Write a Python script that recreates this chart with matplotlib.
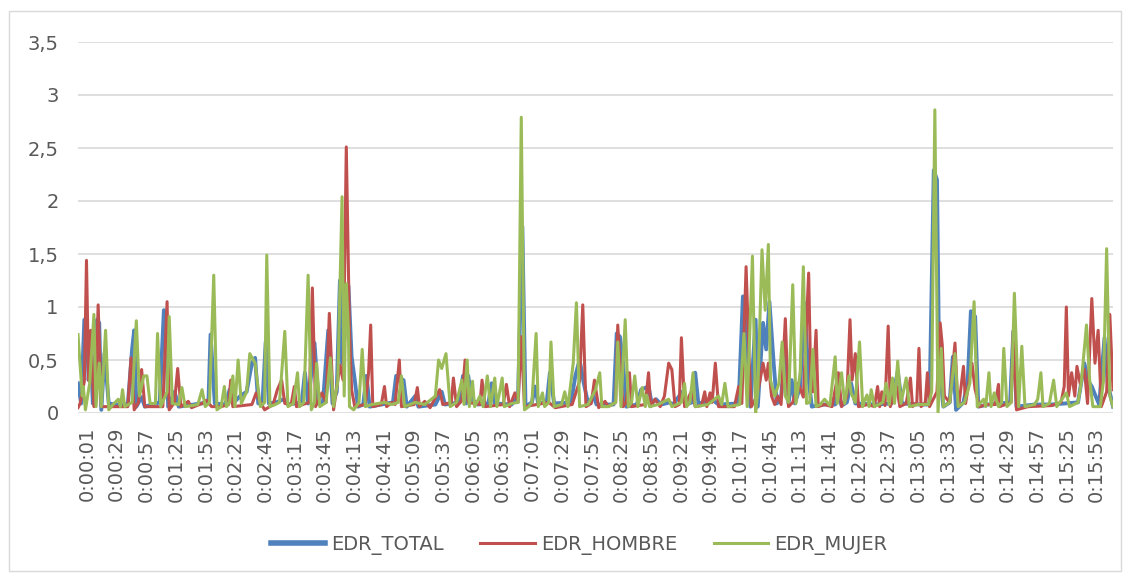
import matplotlib.pyplot as plt
from matplotlib.patches import Rectangle
from matplotlib.transforms import ScaledTranslation

# readings: second of the recording -> EDR value
total_sec = [1, 4, 7, 9, 11, 13, 15, 19, 21, 23, 26, 30, 36, 48, 52, 54, 56, 61, 64, 78, 82, 84, 86,
             92, 96, 124, 126, 130, 140, 144, 147, 154, 160, 165, 168, 171, 175, 178, 181, 188, 195,
             199, 212, 215, 218, 224, 228, 232, 237, 241, 245, 248, 250, 253, 256, 259, 262, 265, 270,
             273, 276, 287, 298, 301, 308, 311, 319, 322, 338, 344, 347, 361, 364, 367, 369, 372, 378,
             388, 391, 394, 410, 416, 420, 423, 429, 432, 435, 443, 446, 450, 466, 470, 474, 478, 482,
             487, 490, 506, 509, 512, 515, 518, 528, 532, 539, 542, 546, 551, 559, 562, 571, 574, 580,
             583, 586, 600, 605, 624, 628, 631, 635, 640, 642, 647, 650, 653, 657, 660, 664, 668, 671,
             674, 677, 682, 686, 690, 693, 702, 715, 718, 721, 726, 730, 734, 752, 768, 774, 778, 796,
             804, 808, 811, 813, 817, 823, 826, 829, 836, 840, 843, 847, 850, 859, 880, 883, 886, 903,
             919, 944, 950, 953, 957, 961, 964, 969, 972, 977]
total_val = [0.28, 0.09, 0.88, 0.85, 0.31, 0.6, 0.09, 0.88, 0.85, 0.03, 0.56, 0.09, 0.08, 0.08, 0.6,
             0.78, 0.06, 0.15, 0.06, 0.1, 0.97, 0.9, 0.06, 0.2, 0.06, 0.1, 0.74, 0.09, 0.08, 0.22, 0.09,
             0.16, 0.2, 0.47, 0.52, 0.09, 0.1, 0.67, 0.09, 0.1, 0.13, 0.08, 0.1, 0.38, 0.09, 0.66, 0.09,
             0.1, 0.78, 0.09, 0.2, 1.25, 0.47, 0.8, 1.2, 0.53, 0.31, 0.06, 0.08, 0.35, 0.06, 0.08, 0.1,
             0.35, 0.31, 0.06, 0.16, 0.06, 0.08, 0.2, 0.08, 0.1, 0.35, 0.09, 0.35, 0.13, 0.08, 0.09, 0.28,
             0.09, 0.08, 0.16, 1.76, 0.06, 0.1, 0.25, 0.09, 0.1, 0.38, 0.09, 0.1, 0.35, 0.5, 0.28, 0.09,
             0.16, 0.08, 0.08, 0.75, 0.72, 0.47, 0.06, 0.08, 0.22, 0.25, 0.09, 0.13, 0.08, 0.1, 0.08,
             0.2, 0.08, 0.1, 0.38, 0.09, 0.12, 0.08, 0.09, 1.1, 0.88, 0.06, 0.88, 0.06, 0.85, 0.6, 1.05,
             0.47, 0.09, 0.15, 0.6, 0.09, 0.31, 0.09, 0.25, 1.04, 0.31, 0.06, 0.08, 0.08, 0.2, 0.07,
             0.1, 0.28, 0.09, 0.08, 0.09, 0.39, 0.09, 0.08, 0.08, 2.29, 2.2, 0.47, 0.06, 0.1, 0.53,
             0.03, 0.1, 0.3, 0.96, 0.91, 0.06, 0.08, 0.1, 0.77, 0.06, 0.08, 0.08, 0.1, 0.47, 0.31, 0.25,
             0.15, 0.08, 0.71, 0.28, 0.06]

hombre_sec = [1, 3, 7, 9, 11, 13, 16, 18, 20, 23, 30, 48, 51, 54, 58, 61, 64, 81, 85, 87, 92, 95,
              98, 105, 108, 118, 122, 127, 136, 143, 145, 147, 165, 169, 173, 177, 185, 189, 193, 196,
              202, 205, 207, 219, 222, 225, 231, 235, 238, 242, 246, 248, 251, 254, 257, 259, 262,
              272, 275, 277, 279, 287, 290, 292, 297, 300, 304, 306, 318, 321, 323, 328, 333, 342,
              345, 353, 355, 358, 363, 366, 369, 380, 382, 385, 402, 405, 408, 413, 416, 419, 422,
              445, 451, 467, 474, 477, 480, 485, 488, 492, 498, 501, 508, 510, 512, 515, 518, 521,
              523, 536, 539, 541, 545, 550, 554, 558, 561, 564, 568, 570, 573, 580, 583, 589, 592,
              594, 597, 599, 602, 605, 620, 624, 627, 631, 634, 636, 641, 644, 647, 650, 652, 655,
              658, 661, 664, 668, 671, 675, 680, 685, 690, 692, 694, 697, 699, 705, 712, 718, 721,
              726, 729, 731, 734, 737, 746, 752, 755, 757, 759, 762, 765, 767, 773, 776, 782, 786,
              788, 792, 794, 796, 800, 802, 804, 811, 814, 816, 818, 823, 828, 830, 832, 836, 838,
              844, 847, 851, 858, 866, 869, 870, 881, 883, 886, 897, 919, 928, 931, 933, 935, 938,
              941, 943, 946, 948, 950, 953, 957, 960, 963, 966, 971, 974, 977]
hombre_val = [0.05, 0.09, 0.3, 1.44, 0.31, 0.78, 0.06, 0.3, 1.02, 0.06, 0.06, 0.06, 0.52, 0.03, 0.1,
              0.41, 0.06, 0.06, 1.05, 0.03, 0.1, 0.42, 0.06, 0.11, 0.05, 0.09, 0.12, 0.06, 0.06, 0.08,
              0.31, 0.06, 0.08, 0.19, 0.1, 0.03, 0.08, 0.22, 0.31, 0.09, 0.08, 0.25, 0.06, 0.1, 1.18,
              0.06, 0.19, 0.1, 0.94, 0.03, 0.31, 0.45, 0.31, 2.51, 0.78, 0.22, 0.06, 0.08, 0.38, 0.83,
              0.06, 0.08, 0.25, 0.06, 0.1, 0.08, 0.5, 0.06, 0.08, 0.24, 0.06, 0.11, 0.05, 0.22, 0.08,
              0.1, 0.33, 0.06, 0.12, 0.5, 0.1, 0.08, 0.31, 0.06, 0.08, 0.27, 0.06, 0.19, 0.1, 0.72,
              0.06, 0.1, 0.05, 0.08, 0.3, 1.02, 0.06, 0.09, 0.31, 0.05, 0.11, 0.06, 0.1, 0.83, 0.47,
              0.06, 0.1, 0.38, 0.06, 0.08, 0.38, 0.06, 0.13, 0.06, 0.16, 0.47, 0.41, 0.06, 0.08, 0.71,
              0.06, 0.22, 0.06, 0.07, 0.2, 0.06, 0.19, 0.1, 0.47, 0.06, 0.06, 0.25, 0.09, 1.38, 0.47,
              0.06, 0.16, 0.3, 0.47, 0.31, 0.47, 0.16, 0.08, 0.16, 0.08, 0.89, 0.06, 0.1, 0.28, 0.15,
              1.32, 0.31, 0.2, 0.78, 0.06, 0.08, 0.06, 0.38, 0.06, 0.15, 0.88, 0.31, 0.56, 0.06, 0.08,
              0.06, 0.25, 0.06, 0.2, 0.07, 0.82, 0.06, 0.25, 0.06, 0.09, 0.33, 0.06, 0.1, 0.61, 0.06,
              0.1, 0.38, 0.06, 0.2, 0.85, 0.64, 0.16, 0.1, 0.66, 0.22, 0.1, 0.44, 0.09, 0.47, 0.22,
              0.06, 0.08, 0.08, 0.27, 0.06, 0.1, 0.78, 0.03, 0.06, 0.07, 0.1, 0.25, 1.0, 0.16, 0.38,
              0.16, 0.44, 0.28, 0.35, 0.41, 0.09, 1.08, 0.47, 0.78, 0.06, 0.2, 0.93, 0.22]

mujer_sec = [1, 5, 6, 8, 12, 16, 18, 21, 23, 27, 30, 34, 39, 41, 43, 45, 52, 56, 59, 63, 66, 69,
             74, 76, 79, 85, 87, 90, 96, 99, 102, 114, 118, 121, 125, 129, 132, 136, 139, 141, 144,
             147, 149, 152, 155, 160, 163, 168, 173, 177, 179, 182, 187, 191, 196, 199, 204, 208,
             210, 214, 218, 221, 224, 226, 229, 235, 239, 242, 246, 250, 252, 254, 256, 257, 261,
             266, 269, 272, 278, 284, 290, 297, 303, 306, 309, 319, 328, 338, 341, 344, 348, 352,
             358, 363, 365, 368, 370, 373, 375, 380, 383, 387, 390, 394, 396, 401, 403, 410, 416,
             419, 422, 426, 429, 433, 435, 439, 441, 445, 447, 450, 457, 460, 463, 468, 471, 474,
             482, 489, 493, 495, 501, 508, 510, 513, 517, 520, 523, 526, 529, 533, 536, 537, 540,
             548, 558, 561, 570, 573, 575, 578, 581, 583, 595, 605, 608, 611, 614, 625, 629, 632,
             637, 640, 642, 646, 649, 652, 654, 658, 662, 665, 668, 671, 675, 678, 682, 685, 688,
             691, 694, 697, 701, 705, 710, 715, 717, 721, 724, 728, 730, 734, 738, 741, 742, 745,
             747, 749, 752, 760, 763, 766, 769, 771, 774, 777, 782, 785, 793, 803, 806, 809, 812,
             815, 817, 823, 828, 831, 837, 842, 846, 849, 855, 857, 860, 862, 865, 869, 872, 874,
             877, 881, 884, 888, 891, 894, 903, 906, 909, 911, 917, 921, 924, 933, 936, 944, 947,
             952, 955, 958, 965, 968, 971, 974, 977]
mujer_val = [0.74, 0.16, 0.25, 0.03, 0.28, 0.93, 0.06, 0.47, 0.06, 0.78, 0.03, 0.08, 0.13, 0.06,
             0.22, 0.06, 0.1, 0.87, 0.16, 0.35, 0.35, 0.09, 0.09, 0.75, 0.06, 0.2, 0.91, 0.09, 0.08,
             0.24, 0.06, 0.08, 0.22, 0.06, 0.1, 1.3, 0.03, 0.06, 0.25, 0.06, 0.1, 0.35, 0.06, 0.5,
             0.09, 0.2, 0.56, 0.47, 0.06, 0.1, 1.49, 0.06, 0.08, 0.1, 0.77, 0.06, 0.09, 0.38, 0.06,
             0.1, 1.3, 0.03, 0.1, 0.47, 0.06, 0.1, 0.52, 0.06, 0.3, 2.04, 0.16, 1.22, 0.78, 0.06,
             0.03, 0.1, 0.6, 0.06, 0.08, 0.09, 0.1, 0.08, 0.1, 0.35, 0.06, 0.1, 0.08, 0.16, 0.5, 0.42,
             0.56, 0.06, 0.1, 0.31, 0.08, 0.5, 0.06, 0.3, 0.06, 0.16, 0.06, 0.35, 0.06, 0.33, 0.06,
             0.33, 0.06, 0.09, 0.1, 2.79, 0.03, 0.06, 0.1, 0.75, 0.06, 0.19, 0.06, 0.1, 0.67, 0.06,
             0.08, 0.2, 0.06, 0.47, 1.04, 0.06, 0.08, 0.22, 0.38, 0.06, 0.06, 0.1, 0.67, 0.06, 0.88,
             0.06, 0.1, 0.35, 0.06, 0.24, 0.06, 0.17, 0.06, 0.08, 0.13, 0.06, 0.1, 0.28, 0.06, 0.1,
             0.38, 0.06, 0.08, 0.16, 0.08, 0.28, 0.06, 0.08, 0.75, 0.06, 1.48, 0.0, 0.2, 1.54, 0.97,
             1.59, 0.31, 0.16, 0.28, 0.67, 0.16, 0.1, 1.21, 0.09, 0.38, 1.38, 0.09, 0.1, 0.6, 0.06,
             0.08, 0.13, 0.07, 0.53, 0.09, 0.38, 0.09, 0.35, 0.19, 0.1, 0.67, 0.06, 0.1, 0.17, 0.06,
             0.22, 0.06, 0.1, 0.28, 0.08, 0.33, 0.09, 0.49, 0.09, 0.33, 0.06, 0.08, 0.08, 0.2, 2.86,
             0.0, 0.61, 0.06, 0.1, 0.56, 0.06, 0.1, 0.28, 1.05, 0.06, 0.13, 0.06, 0.38, 0.06, 0.19,
             0.06, 0.1, 0.61, 0.06, 0.1, 1.13, 0.06, 0.63, 0.06, 0.08, 0.13, 0.38, 0.06, 0.09, 0.31,
             0.06, 0.19, 0.06, 0.1, 0.28, 0.83, 0.31, 0.06, 0.06, 0.3, 1.55, 0.16, 0.06]

series = [
    ("EDR_TOTAL", total_sec, total_val, "#4F81BD", 2.8),
    ("EDR_HOMBRE", hombre_sec, hombre_val, "#C0504D", 2.2),
    ("EDR_MUJER", mujer_sec, mujer_val, "#9BBB59", 2.2),
]

tick_sec = list(range(1, 954, 28))
tick_lab = ["%d:%02d:%02d" % (s // 3600, (s % 3600) // 60, s % 60) for s in tick_sec]

W, H = 1130, 576
fig = plt.figure(figsize=(W / 100, H / 100), dpi=100)
ax = fig.add_axes([78 / W, 1 - 413 / H, (1113 - 78) / W, (413 - 42) / H])

grey = "#595959"
for name, xs, ys, col, lw in series:
    ax.plot(xs, ys, color=col, lw=lw, label=name, solid_joinstyle="round")

ax.set_xlim(1, 977)
ax.set_ylim(0, 3.5)
ax.set_yticks([0, 0.5, 1, 1.5, 2, 2.5, 3, 3.5])
ax.set_yticklabels(["0", "0,5", "1", "1,5", "2", "2,5", "3", "3,5"])
ax.grid(axis="y", color="#d9d9d9", lw=1.2)
ax.set_axisbelow(True)
for sp in ax.spines.values():
    sp.set_visible(False)
ax.tick_params(axis="y", length=0, pad=14, labelsize=14, labelcolor=grey)
ax.set_xticks(tick_sec)
ax.set_xticklabels(tick_lab, rotation=90, fontsize=14, color=grey)
ax.tick_params(axis="x", length=0, pad=10)
shift = ScaledTranslation(0.09, 0, fig.dpi_scale_trans)
for lab in ax.get_xticklabels():
    lab.set_transform(lab.get_transform() + shift)

leg = ax.legend(loc="center", bbox_to_anchor=(579 / W, 1 - 545 / H),
                bbox_transform=fig.transFigure, ncol=3, frameon=False,
                fontsize=14, handlelength=2.8, handletextpad=0.3, columnspacing=1.9)
for t in leg.get_texts():
    t.set_color(grey)
leg.get_lines()[0].set_linewidth(4)

fig.patches.append(Rectangle((8.5 / W, 1 - 571 / H), (1121 - 8.5) / W, (571 - 10.5) / H,
                             transform=fig.transFigure, fill=False, ec="#d9d9d9", lw=1))

fig.savefig("out.png", dpi=100)
